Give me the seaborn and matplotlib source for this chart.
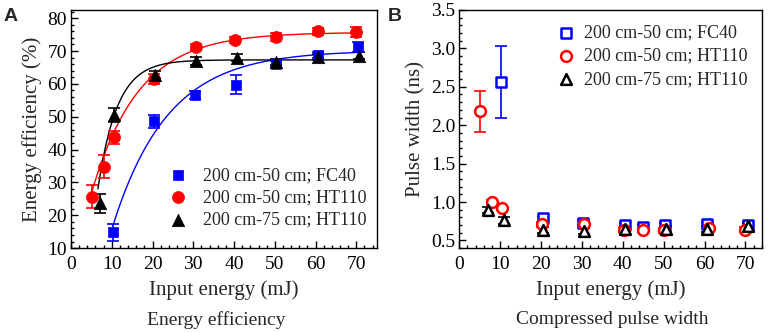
import numpy as np
import pandas as pd
import matplotlib
matplotlib.use("Agg")
import matplotlib.pyplot as plt
from matplotlib.ticker import MultipleLocator, FormatStrFormatter
import seaborn as sns

# ---------------- data: panel A (energy efficiency) ----------------
labels = ["200 cm-50 cm; FC40", "200 cm-50 cm; HT110", "200 cm-75 cm; HT110"]
colors = ["#0000ff", "#ff0000", "#000000"]

a_fc40_x = [10.4, 20.4, 30.5, 40.5, 50.2, 60.5, 70.5]
a_fc40_y = [14.8, 48.6, 56.7, 59.8, 66.0, 68.8, 71.3]
a_fc40_e = [2.5, 2.0, 1.2, 2.8, 1.0, 1.0, 1.5]

a_ht50_x = [5.2, 8.0, 10.5, 20.4, 30.6, 40.3, 50.2, 60.5, 70.0]
a_ht50_y = [25.7, 34.8, 43.8, 61.6, 71.2, 73.3, 74.4, 76.0, 75.7]
a_ht50_e = [3.5, 3.5, 2.0, 1.5, 1.0, 1.0, 1.2, 1.0, 1.5]

a_ht75_x = [7.1, 10.6, 20.6, 30.6, 40.6, 50.4, 60.6, 70.6]
a_ht75_y = [23.6, 50.6, 62.8, 67.0, 68.0, 66.6, 68.2, 68.6]
a_ht75_e = [2.8, 2.2, 1.0, 1.2, 1.0, 1.0, 1.0, 1.0]

# exponential-saturation fit parameters y = A - B*exp(-x/t), drawn from x_start to x_end
fit_A = [70.2, 75.7, 67.3]
fit_B = [114.3, 75.7, 160.0]
fit_t = [13.5, 11.5, 4.7]
fit_x0 = [10.3, 4.6, 6.6]
fit_x1 = [70.6, 70.6, 70.6]

# ---------------- data: panel B (compressed pulse width) ----------------
b_fc40_x = [10.3, 20.5, 30.3, 40.5, 45.0, 50.3, 60.5, 70.5]
b_fc40_y = [2.56, 0.79, 0.73, 0.70, 0.67, 0.70, 0.71, 0.70]
b_fc40_e = [0.47, 0.03, 0.03, 0.03, 0.03, 0.03, 0.03, 0.03]

b_ht50_x = [5.1, 8.0, 10.5, 20.3, 30.6, 40.3, 45.0, 50.0, 61.0, 70.0]
b_ht50_y = [2.18, 1.00, 0.92, 0.71, 0.72, 0.64, 0.63, 0.63, 0.66, 0.64]
b_ht50_e = [0.27, 0.02, 0.02, 0.03, 0.03, 0.03, 0.02, 0.03, 0.03, 0.03]

b_ht75_x = [7.0, 11.0, 20.6, 30.6, 40.6, 50.6, 60.6, 70.6]
b_ht75_y = [0.90, 0.76, 0.63, 0.62, 0.65, 0.65, 0.65, 0.69]
b_ht75_e = [0.04, 0.04, 0.04, 0.04, 0.04, 0.04, 0.04, 0.04]

# ---------------- figure ----------------
sns.set_theme(style="ticks")
plt.rcParams["font.family"] = ["Liberation Serif", "DejaVu Serif"]

fig = plt.figure(figsize=(7.68, 3.33), dpi=100)
axA = fig.add_axes([0.0925, 0.255, 0.398, 0.715])
axB = fig.add_axes([0.598, 0.255, 0.394, 0.715])

TICK_FS = 14
LAB_FS = 15
LEG_FS = 13

def style_axis(ax):
    for s in ax.spines.values():
        s.set_linewidth(1.0)
        s.set_color("black")
    ax.tick_params(which="both", direction="in", top=False, right=False,
                   labelsize=TICK_FS, colors="black", width=1.0)
    ax.tick_params(which="major", length=5)
    ax.tick_params(which="minor", length=2.5)
    ax.tick_params(axis="x", pad=6)
    ax.tick_params(axis="y", pad=3)

# ---- panel A ----
sets_A = [(a_fc40_x, a_fc40_y, a_fc40_e, "s", 60),
          (a_ht50_x, a_ht50_y, a_ht50_e, "o", 75),
          (a_ht75_x, a_ht75_y, a_ht75_e, "^", 80)]
for i in range(3):
    xf = np.linspace(fit_x0[i], fit_x1[i], 300)
    yf = fit_A[i] - fit_B[i] * np.exp(-xf / fit_t[i])
    sns.lineplot(x=xf, y=yf, ax=axA, color=colors[i], lw=1.0, legend=False, zorder=2)
for i, (xs, ys, es, mk, sz) in enumerate(sets_A):
    axA.errorbar(xs, ys, yerr=es, fmt="none", ecolor=colors[i], elinewidth=1.2,
                 capsize=4, capthick=1.2, zorder=3)
    sns.scatterplot(x=xs, y=ys, ax=axA, marker=mk, s=sz, color=colors[i],
                    edgecolor=colors[i], linewidth=0.5, label=labels[i], zorder=4)

axA.set_xlim(0, 75)
axA.set_ylim(10, 82.5)
axA.xaxis.set_major_locator(MultipleLocator(10))
axA.xaxis.set_minor_locator(MultipleLocator(2))
axA.yaxis.set_major_locator(MultipleLocator(10))
axA.yaxis.set_minor_locator(MultipleLocator(2))
style_axis(axA)
axA.set_xlabel("Input energy (mJ)", fontsize=LAB_FS, labelpad=5)
axA.set_ylabel("Energy efficiency (%)", fontsize=LAB_FS, labelpad=4)
axA.legend(loc="upper left", bbox_to_anchor=(0.314, 0.34), frameon=False,
           fontsize=LEG_FS, handlelength=1.2, handletextpad=0.8,
           labelspacing=0.28, borderaxespad=0.0, borderpad=0.0)

# ---- panel B ----
sets_B = [(b_fc40_x, b_fc40_y, b_fc40_e, "s", 50),
          (b_ht50_x, b_ht50_y, b_ht50_e, "o", 60),
          (b_ht75_x, b_ht75_y, b_ht75_e, "^", 60)]
for i, (xs, ys, es, mk, sz) in enumerate(sets_B):
    axB.errorbar(xs, ys, yerr=es, fmt="none", ecolor=colors[i], elinewidth=1.2,
                 capsize=4, capthick=1.2, zorder=3)
    sns.scatterplot(x=xs, y=ys, ax=axB, marker=mk, s=sz, facecolor="white",
                    edgecolor=colors[i], linewidth=1.8, label=labels[i], zorder=4)

axB.set_xlim(0, 74)
axB.set_ylim(0.4, 3.5)
axB.xaxis.set_major_locator(MultipleLocator(10))
axB.xaxis.set_minor_locator(MultipleLocator(2))
axB.yaxis.set_major_locator(MultipleLocator(0.5))
axB.yaxis.set_minor_locator(MultipleLocator(0.1))
axB.yaxis.set_major_formatter(FormatStrFormatter("%.1f"))
style_axis(axB)
axB.set_xlabel("Input energy (mJ)", fontsize=LAB_FS, labelpad=5)
axB.set_ylabel("Pulse width (ns)", fontsize=LAB_FS, labelpad=4)
axB.legend(loc="upper left", bbox_to_anchor=(0.317, 0.938), frameon=False,
           fontsize=LEG_FS, handlelength=1.2, handletextpad=0.4,
           labelspacing=0.34, borderaxespad=0.0, borderpad=0.0)

# panel letters and captions
fig.text(0.005, 0.975, "A", fontsize=14, fontweight="bold", family="Liberation Sans",
         ha="left", va="top")
fig.text(0.505, 0.975, "B", fontsize=14, fontweight="bold", family="Liberation Sans",
         ha="left", va="top")
fig.text(0.282, 0.04, "Energy efficiency", fontsize=14, ha="center", va="center")
fig.text(0.797, 0.04, "Compressed pulse width", fontsize=14, ha="center", va="center")

fig.savefig("out.png", dpi=100)
